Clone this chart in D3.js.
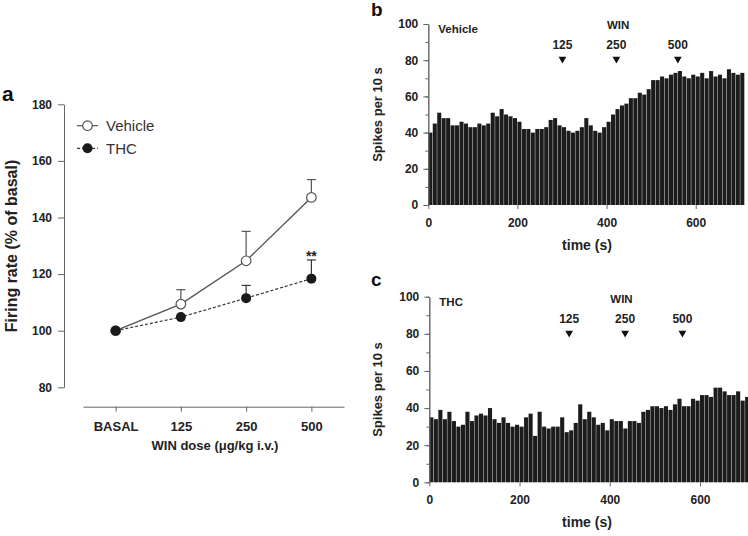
<!DOCTYPE html>
<html>
<head>
<meta charset="utf-8">
<script src="https://cdn.jsdelivr.net/npm/d3@7"></script>
<style>
  body { margin: 0; background: #fff; }
  svg { display: block; font-family: "Liberation Sans", Arial, sans-serif; }
  .axis text { fill: #222; font-weight: bold; }
  .axis path, .axis line { stroke: #666; }
</style>
</head>
<body>
<svg id="chart" width="748" height="536"></svg>
<script>
// ---------- Data ----------
const categories = ["BASAL", "125", "250", "500"];
const vehicleMean = [100, 109.4, 124.7, 147.1];
const vehicleSEM  = [0, 5.1, 10.4, 6.3];
const thcMean     = [100, 104.8, 111.5, 118.4];
const thcSEM      = [0, 0, 4.5, 6.6];
const yTicksA = [80, 100, 120, 140, 160, 180];

const binWidth = 10; // seconds per bin
const vehicleSpikes = [40,45,51,48,48,44,44,46,45,43,43,45,44,45,51,49,53,50,49,48,
                       46,42,42,40,42,42,43,47,48,44,43,41,40,41,43,48,44,41,40,43,
                       46,50,53,55,56,59,59,62,61,64,69,69,71,70,72,73,74,71,70,72,
                       71,73,70,74,71,72,70,75,73,72,73];
const thcSpikes = [35,34,39,34,38,33,30,31,38,33,36,37,36,40,34,32,35,32,30,31,
                   30,35,37,25,38,30,29,30,30,35,27,28,32,42,34,38,35,31,32,28,
                   34,33,33,29,33,33,32,38,39,41,41,40,41,39,42,45,41,41,45,44,
                   47,47,46,51,51,49,47,47,49,44,46];
const timeTicks = [0, 200, 400, 600];
const spikeTicks = [0, 20, 40, 60, 80, 100];
const doseLabels = ["125", "250", "500"];
const vehicleDoseTimes = [301, 422, 560];
const thcDoseTimes = [310, 434, 561];

const svg = d3.select("#chart");
svg.append("rect").attr("width", 748).attr("height", 536).attr("fill", "#fff");

// ---------- Panel a ----------
const xA = d3.scalePoint().domain(categories).range([83, 344]).padding(0.5);
const yA = d3.scaleLinear().domain([80, 180]).range([387.3, 104.3]);

const gA = svg.append("g");
gA.append("g").attr("class", "axis")
  .attr("transform", "translate(64,0)")
  .call(d3.axisLeft(yA).tickValues(yTicksA).tickSize(6).tickSizeOuter(0).tickPadding(6))
  .selectAll("text").style("font-size", "12px");
gA.append("g").attr("class", "axis")
  .attr("transform", "translate(0,406.7)")
  .call(d3.axisBottom(xA).tickSize(5).tickSizeOuter(0).tickPadding(10))
  .selectAll("text").style("font-size", "13px");

gA.append("text").attr("transform", "translate(17,246) rotate(-90)")
  .attr("text-anchor", "middle").style("font-size", "16px").style("font-weight", "bold")
  .attr("fill", "#222").text("Firing rate (% of basal)");
gA.append("text").attr("x", 215).attr("y", 450)
  .attr("text-anchor", "middle").style("font-size", "13px").style("font-weight", "bold")
  .attr("fill", "#222").text("WIN dose (\u03BCg/kg i.v.)");
svg.append("text").attr("x", 2).attr("y", 101).style("font-size", "21px")
  .style("font-weight", "bold").attr("fill", "#111").text("a");

const vehColor = "#555";
const thcColor = "#1a1a1a";
const idx = d3.range(categories.length);

// error bars (upward)
function errBars(mean, sem, color) {
  idx.filter(i => sem[i] > 0).forEach(i => {
    const x = xA(categories[i]);
    gA.append("line").attr("x1", x).attr("x2", x)
      .attr("y1", yA(mean[i])).attr("y2", yA(mean[i] + sem[i]))
      .attr("stroke", color).attr("stroke-width", 1.2);
    gA.append("line").attr("x1", x - 4.5).attr("x2", x + 4.5)
      .attr("y1", yA(mean[i] + sem[i])).attr("y2", yA(mean[i] + sem[i]))
      .attr("stroke", color).attr("stroke-width", 1.2);
  });
}
errBars(vehicleMean, vehicleSEM, vehColor);
errBars(thcMean, thcSEM, "#333");

const lineA = d3.line().x(i => xA(categories[i]));
gA.append("path").attr("d", lineA.y(i => yA(thcMean[i]))(idx))
  .attr("fill", "none").attr("stroke", "#333").attr("stroke-width", 1.2)
  .attr("stroke-dasharray", "3,2");
gA.append("path").attr("d", lineA.y(i => yA(vehicleMean[i]))(idx))
  .attr("fill", "none").attr("stroke", vehColor).attr("stroke-width", 1.4);

idx.forEach(i => {
  gA.append("circle").attr("cx", xA(categories[i])).attr("cy", yA(vehicleMean[i]))
    .attr("r", 4.8).attr("fill", "#fff").attr("stroke", vehColor).attr("stroke-width", 1.2);
});
idx.forEach(i => {
  gA.append("circle").attr("cx", xA(categories[i])).attr("cy", yA(thcMean[i]))
    .attr("r", 5).attr("fill", thcColor);
});

gA.append("text").attr("x", xA("500")).attr("y", yA(thcMean[3] + thcSEM[3]) + 1)
  .attr("text-anchor", "middle").style("font-size", "14px").style("font-weight", "bold")
  .attr("fill", "#222").text("**");

// legend
const leg = gA.append("g");
leg.append("line").attr("x1", 77).attr("x2", 98).attr("y1", 125.7).attr("y2", 125.7)
  .attr("stroke", vehColor).attr("stroke-width", 1.2);
leg.append("circle").attr("cx", 87.5).attr("cy", 125.7).attr("r", 4.8)
  .attr("fill", "#fff").attr("stroke", vehColor).attr("stroke-width", 1.2);
leg.append("text").attr("x", 106).attr("y", 131).style("font-size", "15px")
  .attr("fill", "#333").text("Vehicle");
leg.append("line").attr("x1", 77).attr("x2", 98).attr("y1", 148.3).attr("y2", 148.3)
  .attr("stroke", "#333").attr("stroke-width", 1.2).attr("stroke-dasharray", "3,2");
leg.append("circle").attr("cx", 87.5).attr("cy", 148.3).attr("r", 5).attr("fill", thcColor);
leg.append("text").attr("x", 106).attr("y", 153.6).style("font-size", "15px")
  .attr("fill", "#333").text("THC");

// ---------- Histogram panels ----------
function histPanel(opt) {
  const { data, x0, x600, yTop, yBottom, letter, letterY, name, doseTimes, annTop } = opt;
  const x = d3.scaleLinear().domain([0, 600]).range([x0, x600]);
  const y = d3.scaleLinear().domain([0, 100]).range([yBottom, yTop]);
  const g = svg.append("g");

  // bars
  g.selectAll("rect.bar").data(data).join("rect")
    .attr("x", (d, i) => x(i * binWidth))
    .attr("width", (d, i) => x((i + 1) * binWidth) - x(i * binWidth) - 0.4)
    .attr("y", d => y(d)).attr("height", d => y(0) - y(d))
    .attr("fill", "#1c1c1c");

  // y axis
  g.append("g").attr("class", "axis").attr("transform", `translate(${x0},0)`)
    .call(d3.axisLeft(y).tickValues(d3.range(0, 101, 10)).tickSize(3).tickSizeOuter(0).tickFormat(""));
  g.append("g").attr("class", "axis").attr("transform", `translate(${x0},0)`)
    .call(d3.axisLeft(y).tickValues(spikeTicks).tickSize(5).tickSizeOuter(0).tickPadding(5))
    .selectAll("text").style("font-size", "12px");
  // x axis
  g.append("g").attr("class", "axis").attr("transform", `translate(0,${yBottom})`)
    .call(d3.axisBottom(x).tickValues(timeTicks).tickSize(4).tickSizeOuter(0).tickPadding(9))
    .call(a => a.select(".domain").remove())
    .selectAll("text").style("font-size", "12px");

  g.append("text").attr("transform", `translate(382,${(yTop + yBottom) / 2}) rotate(-90)`)
    .attr("text-anchor", "middle").style("font-size", "13px").style("font-weight", "bold")
    .attr("fill", "#222").text("Spikes per 10 s");
  g.append("text").attr("x", 587).attr("y", yBottom + 45)
    .attr("text-anchor", "middle").style("font-size", "14px").style("font-weight", "bold")
    .attr("fill", "#222").text("time (s)");
  svg.append("text").attr("x", 371).attr("y", letterY).style("font-size", "19px")
    .style("font-weight", "bold").attr("fill", "#111").text(letter);

  g.append("text").attr("x", x0 + 10).attr("y", yTop + 9).style("font-size", "11.5px")
    .style("font-weight", "bold").attr("fill", "#222").text(name);
  g.append("text").attr("x", x(426)).attr("y", annTop)
    .attr("text-anchor", "middle").style("font-size", "11.5px").style("font-weight", "bold")
    .attr("fill", "#222").text("WIN");
  doseTimes.forEach((t, i) => {
    g.append("text").attr("x", x(t)).attr("y", annTop + 19.5)
      .attr("text-anchor", "middle").style("font-size", "12px").style("font-weight", "bold")
      .attr("fill", "#222").text(doseLabels[i]);
    g.append("path").attr("d", d3.symbol(d3.symbolTriangle, 26)())
      .attr("transform", `translate(${x(t)},${annTop + 30}) rotate(180)`)
      .attr("fill", "#111");
  });
}

histPanel({ data: vehicleSpikes, x0: 428.3, x600: 695.7, yTop: 24, yBottom: 205,
  letter: "b", letterY: 16, name: "Vehicle", doseTimes: vehicleDoseTimes, annTop: 29 });
histPanel({ data: thcSpikes, x0: 429.3, x600: 700, yTop: 296.7, yBottom: 482.3,
  letter: "c", letterY: 286, name: "THC", doseTimes: thcDoseTimes, annTop: 303 });
</script>
</body>
</html>
